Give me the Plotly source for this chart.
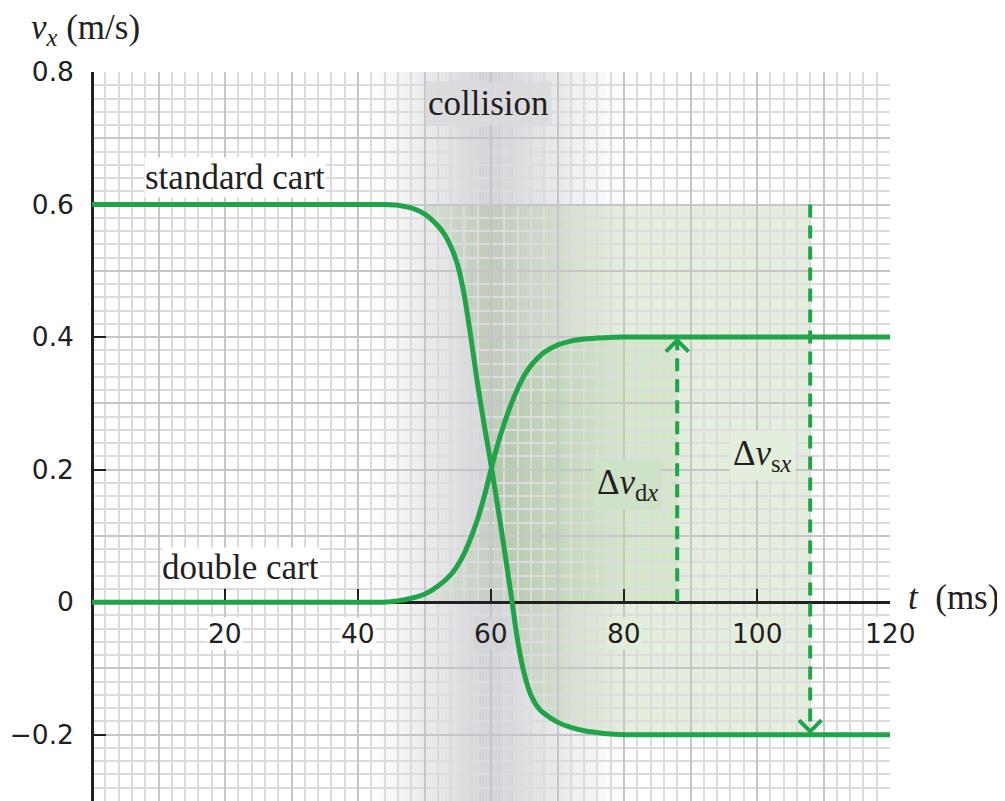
import plotly.graph_objects as go

# ---------------- data ----------------
std_t = [0, 38, 40, 42, 44, 46, 48, 50, 51, 52, 53, 54, 55, 56, 57, 58, 59, 60, 61, 62, 63, 64, 65, 66, 67, 68, 70, 72, 74, 77, 80, 84, 120]
std_v = [0.6, 0.6, 0.6, 0.6, 0.6, 0.599, 0.595, 0.586, 0.578, 0.568, 0.555, 0.536, 0.508, 0.462, 0.398, 0.328, 0.266, 0.208, 0.145, 0.08, 0.012, -0.058, -0.108, -0.14, -0.158, -0.168, -0.181, -0.189, -0.194, -0.198, -0.2, -0.2, -0.2]

dbl_t = [0, 38, 40, 42, 44, 46, 48, 50, 52, 54, 55, 56, 57, 58, 59, 60, 61, 62, 63, 64, 65, 66, 67, 68, 70, 72, 74, 77, 80, 84, 120]
dbl_v = [0, 0, 0, 0, 0, 0.002, 0.006, 0.012, 0.024, 0.042, 0.056, 0.074, 0.098, 0.126, 0.16, 0.2, 0.238, 0.27, 0.298, 0.322, 0.342, 0.357, 0.368, 0.377, 0.388, 0.394, 0.397, 0.399, 0.4, 0.4, 0.4]

x_tick_vals = [20, 40, 60, 80, 100, 120]
x_tick_text = ["20", "40", "60", "80", "100", "120"]
y_tick_vals = [-0.2, 0, 0.2, 0.4, 0.6, 0.8]
y_tick_text = ["\u22120.2", "0", "0.2", "0.4", "0.6", "0.8"]

# arrows: time, start value, end value
arrow_times = [88, 108]
arrow_from = [0.0, 0.6]
arrow_to = [0.4, -0.2]

# collision band: start, peak, end (ms)
collision_band = [42, 60, 80]
# shaded regions
std_shade_t = [50, 108]   # standard cart change region
dbl_shade_t = [45, 88]    # double cart change region

X_RANGE = [0, 120]
Y_RANGE = [-0.3, 0.8]

GREEN = "#21a349"
INK = "#231f20"
SERIF = "Liberation Serif"
SANS = "DejaVu Sans"
SERIF_SIZE = 35
SANS_SIZE = 26.5

fig = go.Figure()

# ---------------- background shading (shapes below grid) ----------------
shapes = []
b0, bp, b1 = collision_band
step = 0.5
n = int((b1 - b0) / step)
peak = (209, 210, 214)
for i in range(n):
    ta = b0 + i * step
    tb = ta + step
    tm = 0.5 * (ta + tb)
    if tm <= bp:
        f = (tm - b0) / (bp - b0)
    else:
        f = (b1 - tm) / (b1 - bp)
    f = max(0.0, min(1.0, f))
    col = tuple(round(255 - f * (255 - c)) for c in peak)
    shapes.append(dict(type="rect", xref="x", yref="y", x0=ta, x1=tb + 0.02,
                       y0=Y_RANGE[0], y1=Y_RANGE[1], layer="below",
                       line=dict(width=0), fillcolor="rgb(%d,%d,%d)" % col))

# standard cart region: right of curve, between 0.6 and -0.2, up to arrow
pts = [(std_shade_t[0], arrow_from[1]), (std_shade_t[1], arrow_from[1]),
       (std_shade_t[1], arrow_to[1])]
seg = [(t, v) for t, v in zip(std_t, std_v) if std_shade_t[0] <= t <= 80]
pts += list(reversed(seg))
path1 = "M " + " L ".join("%g,%g" % p for p in pts) + " Z"
shapes.append(dict(type="path", xref="x", yref="y", path=path1, layer="below",
                   line=dict(width=0), fillcolor="rgba(115,175,80,0.2)"))

# double cart region: below curve, above 0, up to arrow
seg2 = [(t, v) for t, v in zip(dbl_t, dbl_v) if dbl_shade_t[0] <= t <= dbl_shade_t[1]]
pts2 = seg2 + [(dbl_shade_t[1], arrow_to[0]), (dbl_shade_t[1], 0), (dbl_shade_t[0], 0)]
path2 = "M " + " L ".join("%g,%g" % p for p in pts2) + " Z"
shapes.append(dict(type="path", xref="x", yref="y", path=path2, layer="below",
                   line=dict(width=0), fillcolor="rgba(115,175,80,0.13)"))

# ---------------- traces on overlay axes ----------------
fig.add_trace(go.Scatter(x=std_t, y=std_v, mode="lines", xaxis="x2", yaxis="y2",
                         line=dict(color=GREEN, width=5, shape="spline", smoothing=0.6),
                         showlegend=False, hoverinfo="skip"))
fig.add_trace(go.Scatter(x=dbl_t, y=dbl_v, mode="lines", xaxis="x2", yaxis="y2",
                         line=dict(color=GREEN, width=5, shape="spline", smoothing=0.6),
                         showlegend=False, hoverinfo="skip"))

head_dt = 1.7
head_dv = 0.017
for t, a, b in zip(arrow_times, arrow_from, arrow_to):
    sgn = 1 if b > a else -1
    tip = b - sgn * 0.005
    fig.add_trace(go.Scatter(x=[t, t], y=[a, tip - sgn * 0.004], mode="lines",
                             xaxis="x2", yaxis="y2",
                             line=dict(color=GREEN, width=4, dash="13px,8px"),
                             showlegend=False, hoverinfo="skip"))
    fig.add_trace(go.Scatter(x=[t - head_dt, t, t + head_dt],
                             y=[tip - sgn * head_dv, tip, tip - sgn * head_dv],
                             mode="lines", xaxis="x2", yaxis="y2",
                             line=dict(color=GREEN, width=4),
                             showlegend=False, hoverinfo="skip"))

# ---------------- annotations ----------------
ann = []
lbl_bg = ["white", "white", "rgb(212,213,216)", "rgb(226,238,219)", "rgb(227,239,220)", "white"]
for v, s, bg in zip(x_tick_vals, x_tick_text, lbl_bg):
    ann.append(dict(x=v, y=-0.047, xref="x", yref="y", text=s, showarrow=False,
                    font=dict(family=SANS, size=SANS_SIZE, color=INK), bgcolor=bg,
                    xanchor="center", yanchor="middle", borderpad=0))

ann.append(dict(x=7.8, y=0.641, xref="x", yref="y", text="standard cart", showarrow=False,
                font=dict(family=SERIF, size=SERIF_SIZE, color=INK), bgcolor="white",
                xanchor="left", yanchor="middle", borderpad=0))
ann.append(dict(x=10.3, y=0.053, xref="x", yref="y", text="double cart", showarrow=False,
                font=dict(family=SERIF, size=SERIF_SIZE, color=INK), bgcolor="white",
                xanchor="left", yanchor="middle", borderpad=0))
ann.append(dict(x=59.6, y=0.752, xref="x", yref="y", text="collision", showarrow=False,
                font=dict(family=SERIF, size=SERIF_SIZE, color=INK), bgcolor="rgba(218,219,222,0.85)",
                xanchor="center", yanchor="middle", borderpad=2))
ann.append(dict(x=80.6, y=0.178, xref="x", yref="y",
                text="\u0394<i>v</i><sub>d<i>x</i></sub>", showarrow=False,
                font=dict(family=SERIF, size=SERIF_SIZE, color=INK), bgcolor="rgb(206,226,199)",
                xanchor="center", yanchor="middle", borderpad=3))
ann.append(dict(x=100.8, y=0.222, xref="x", yref="y",
                text="\u0394<i>v</i><sub>s<i>x</i></sub>", showarrow=False,
                font=dict(family=SERIF, size=SERIF_SIZE, color=INK), bgcolor="rgb(227,239,220)",
                xanchor="center", yanchor="middle", borderpad=3))
ann.append(dict(x=-0.078, y=1.058, xref="paper", yref="paper",
                text="<i>v</i><sub><i>x</i></sub>\u00a0(m/s)", showarrow=False,
                font=dict(family=SERIF, size=SERIF_SIZE, color=INK),
                xanchor="left", yanchor="middle", borderpad=0))
ann.append(dict(x=1.0215, y=0.2785, xref="paper", yref="paper",
                text="<i>t</i>\u00a0\u00a0(ms)", showarrow=False,
                font=dict(family=SERIF, size=SERIF_SIZE, color=INK),
                xanchor="left", yanchor="middle", borderpad=0))

fig.update_layout(
    width=997, height=793,
    margin=dict(l=84, r=115, t=64, b=0, autoexpand=False),
    paper_bgcolor="white", plot_bgcolor="white",
    showlegend=False,
    shapes=shapes, annotations=ann,
    xaxis=dict(range=X_RANGE, tick0=0, dtick=10, showgrid=True, gridcolor="rgb(198,198,202)",
               gridwidth=2, zeroline=False, showticklabels=False, ticks="",
               showline=False, fixedrange=True,
               minor=dict(dtick=2, showgrid=True, gridcolor="rgb(220,220,222)", gridwidth=1.5)),
    yaxis=dict(range=Y_RANGE, tick0=0, dtick=0.1, showgrid=True, gridcolor="rgb(198,198,202)",
               gridwidth=2, zeroline=False, showticklabels=False, ticks="",
               showline=False, fixedrange=True,
               minor=dict(dtick=0.02, showgrid=True, gridcolor="rgb(220,220,222)", gridwidth=1.5)),
    xaxis2=dict(range=X_RANGE, overlaying="x", anchor="free", position=(0 - Y_RANGE[0]) / (Y_RANGE[1] - Y_RANGE[0]),
                tickmode="array", tickvals=x_tick_vals, ticks="inside", ticklen=12, tickwidth=2,
                tickcolor=INK, showticklabels=False, showgrid=False, zeroline=False,
                showline=True, linecolor=INK, linewidth=2.5, layer="below traces", fixedrange=True),
    yaxis2=dict(range=Y_RANGE, overlaying="y", anchor="free", position=0, side="left",
                tickmode="array", tickvals=y_tick_vals, ticktext=y_tick_text, ticks="inside",
                ticklen=12, tickwidth=2, tickcolor=INK, ticklabelstandoff=12,
                tickfont=dict(family=SANS, size=SANS_SIZE, color=INK),
                showgrid=False, zeroline=False, showline=True, linecolor=INK, linewidth=2.5,
                layer="below traces", fixedrange=True),
)

fig.write_html("out.html")
